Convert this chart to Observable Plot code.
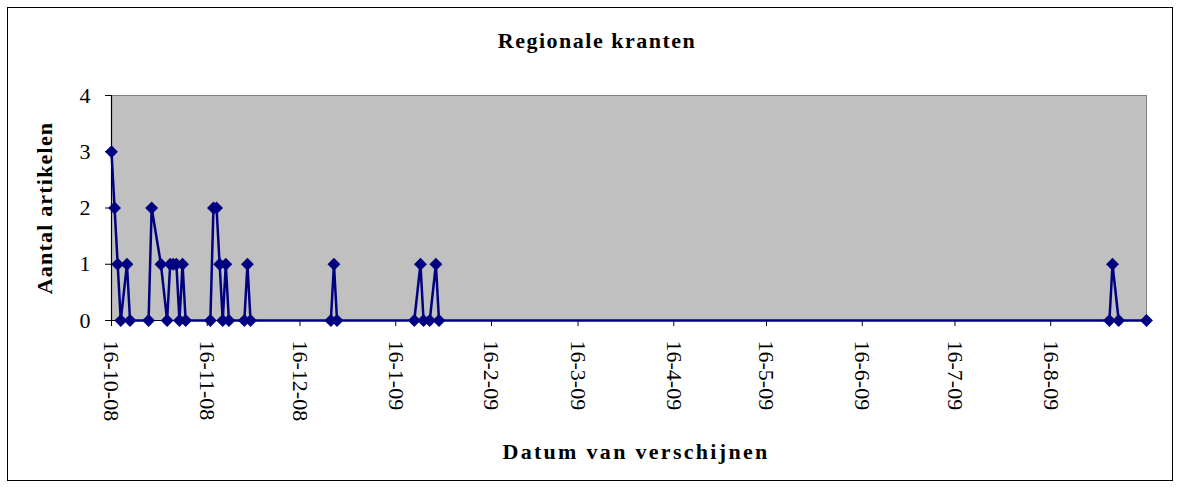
<!DOCTYPE html>
<html>
<head>
<meta charset="utf-8">
<script src="https://cdn.jsdelivr.net/npm/d3@7"></script>
<script src="https://cdn.jsdelivr.net/npm/@observablehq/plot@0.6"></script>
<style>
  body { margin: 0; background: #fff; }
  #wrap { position: relative; width: 1180px; height: 487px; overflow: hidden; font-family: "Liberation Serif", "Times New Roman", serif; color: #000; }
  #border { position: absolute; left: 7px; top: 7px; width: 1166px; height: 474px; border: 1px solid #000; box-sizing: border-box; }
  .lbl { position: absolute; font-weight: bold; white-space: nowrap; transform: translate(-50%, -50%); }
  #title { left: 597px; top: 41px; font-size: 22px; letter-spacing: 1.5px; }
  #ylab { left: 45px; top: 208px; font-size: 22px; letter-spacing: 1.2px; transform: translate(-50%, -50%) rotate(-90deg); }
  #xlab { left: 636px; top: 452px; font-size: 22px; letter-spacing: 2.3px; }
  #chart { position: absolute; left: 0; top: 0; }
</style>
</head>
<body>
<div id="wrap">
  <div id="chart"></div>
  <div id="border"></div>
  <div class="lbl" id="title">Regionale kranten</div>
  <div class="lbl" id="ylab">Aantal artikelen</div>
  <div class="lbl" id="xlab">Datum van verschijnen</div>
</div>
<script>
// Publication dates and number of articles (Regionale kranten)
const dates = [
  "2008-10-16","2008-10-17","2008-10-18","2008-10-19","2008-10-21","2008-10-22",
  "2008-10-28","2008-10-29","2008-11-01","2008-11-03","2008-11-04","2008-11-05",
  "2008-11-06","2008-11-07","2008-11-08","2008-11-09","2008-11-17","2008-11-18",
  "2008-11-19","2008-11-20","2008-11-21","2008-11-22","2008-11-23","2008-11-28",
  "2008-11-29","2008-11-30","2008-12-26","2008-12-27","2008-12-28","2009-01-22",
  "2009-01-24","2009-01-25","2009-01-27","2009-01-29","2009-01-30","2009-09-04",
  "2009-09-05","2009-09-07","2009-09-16"
];
const counts = [
  3, 2, 1, 0, 1, 0,
  0, 2, 1, 0, 1, 1,
  1, 0, 1, 0, 0, 2,
  2, 1, 0, 1, 0, 0,
  1, 0, 0, 1, 0, 0,
  1, 0, 0, 1, 0, 0,
  1, 0, 0
];
const tickDates = [
  "2008-10-16","2008-11-16","2008-12-16","2009-01-16","2009-02-16","2009-03-16",
  "2009-04-16","2009-05-16","2009-06-16","2009-07-16","2009-08-16"
];
const xDomain = ["2008-10-16", "2009-09-16"];
const yTicks = [0, 1, 2, 3, 4];

const parse = s => new Date(s + "T00:00:00Z");
const data = dates.map((d, i) => ({date: parse(d), count: counts[i]}));

const chart = Plot.plot({
  width: 1180,
  height: 487,
  marginLeft: 111,
  marginRight: 34,
  marginTop: 95,
  marginBottom: 167,
  style: {fontFamily: "'Liberation Serif', 'Times New Roman', serif", fontSize: "22px", background: "transparent", color: "#000"},
  x: {type: "utc", domain: xDomain.map(parse), ticks: tickDates.map(parse), tickFormat: d3.utcFormat("%-d-%-m-%y"), tickRotate: 90, tickSize: 6, tickPadding: 14, label: null},
  y: {domain: [0, 4], ticks: yTicks, tickFormat: "d", tickSize: 6, tickPadding: 15, label: null},
  marks: [
    Plot.frame({fill: "#c0c0c0", stroke: "#808080"}),
    Plot.ruleX([parse(xDomain[0])], {stroke: "#000", strokeWidth: 1.2}),
    Plot.ruleY([0], {stroke: "#000"}),
    Plot.line(data, {x: "date", y: "count", stroke: "#000080", strokeWidth: 2.5}),
    Plot.dot(data, {x: "date", y: "count", symbol: "diamond2", r: 5.8, fill: "#000080", stroke: "none"})
  ]
});
document.getElementById("chart").appendChild(chart);
</script>
</body>
</html>
